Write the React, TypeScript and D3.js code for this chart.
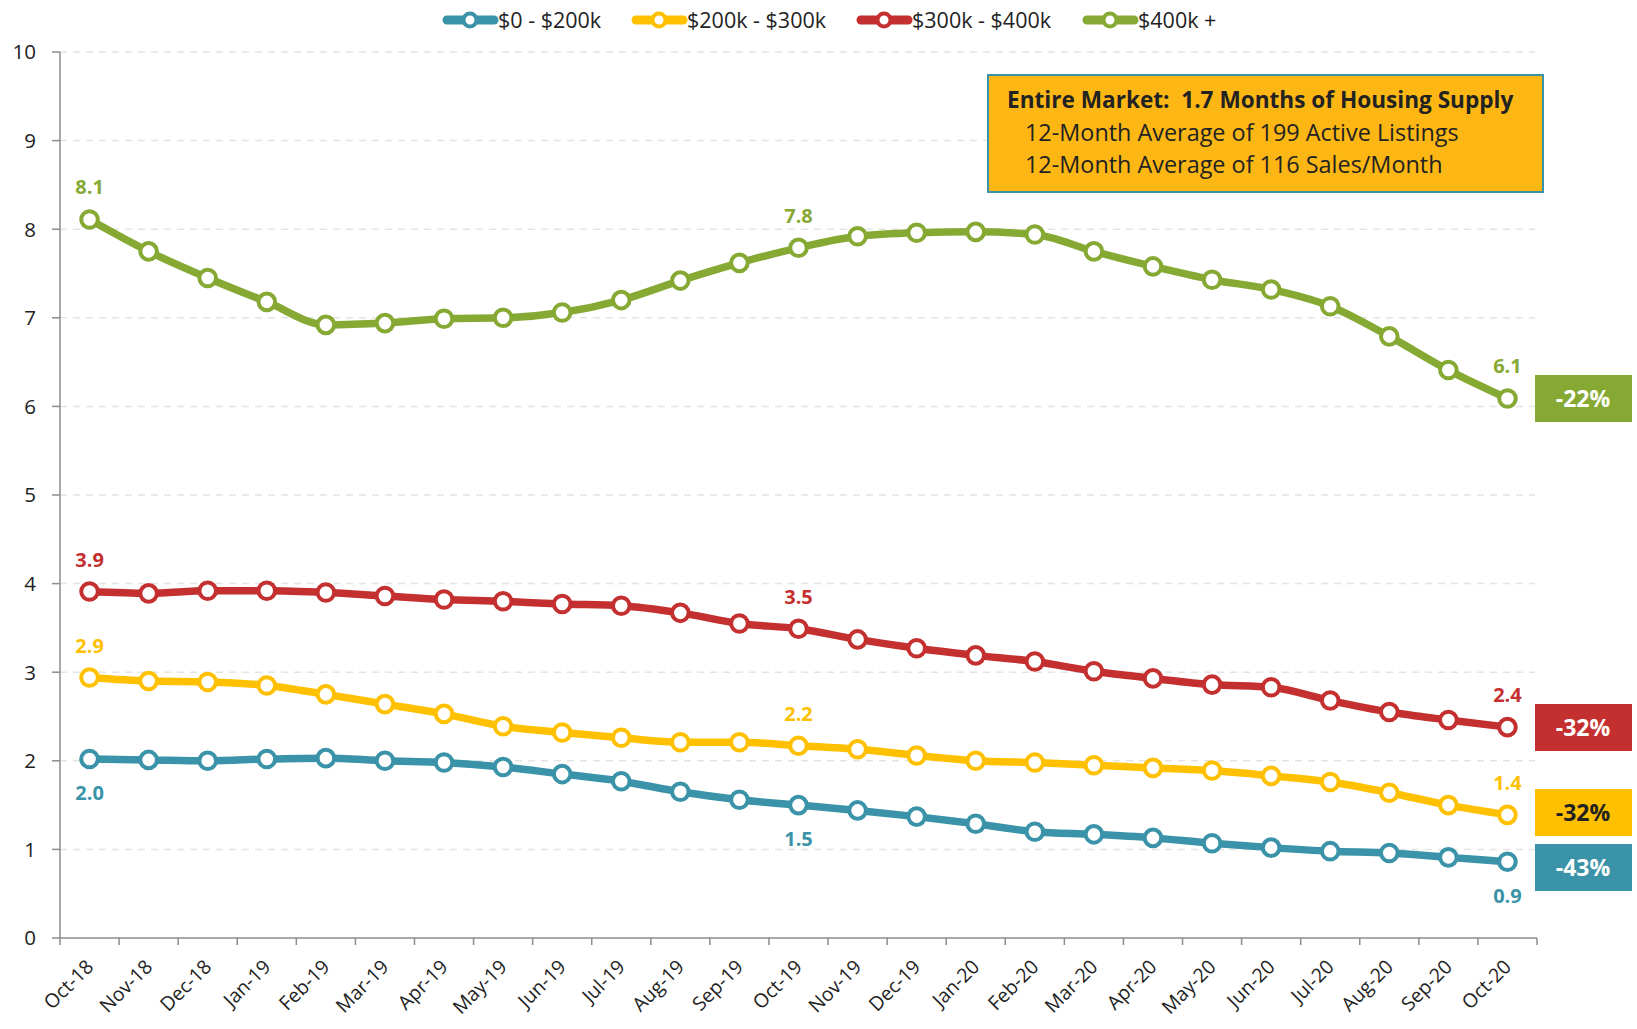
import React from "react";
import * as d3 from "d3";

const months = ["Oct-18","Nov-18","Dec-18","Jan-19","Feb-19","Mar-19","Apr-19","May-19","Jun-19","Jul-19","Aug-19","Sep-19","Oct-19","Nov-19","Dec-19","Jan-20","Feb-20","Mar-20","Apr-20","May-20","Jun-20","Jul-20","Aug-20","Sep-20","Oct-20"];
const seriesNames = ["$0 - $200k", "$200k - $300k", "$300k - $400k", "$400k +"];
const s0to200 = [2.02,2.01,2.00,2.02,2.03,2.00,1.98,1.93,1.85,1.77,1.65,1.56,1.50,1.44,1.37,1.29,1.20,1.17,1.13,1.07,1.02,0.98,0.96,0.91,0.86];
const s200to300 = [2.94,2.90,2.89,2.85,2.75,2.64,2.53,2.39,2.32,2.26,2.21,2.21,2.17,2.13,2.06,2.00,1.98,1.95,1.92,1.89,1.83,1.76,1.64,1.50,1.39];
const s300to400 = [3.91,3.89,3.92,3.92,3.90,3.86,3.82,3.80,3.77,3.75,3.67,3.55,3.49,3.37,3.27,3.19,3.12,3.01,2.93,2.86,2.83,2.68,2.55,2.46,2.38];
const s400plus = [8.11,7.75,7.45,7.18,6.92,6.94,6.99,7.00,7.06,7.20,7.42,7.62,7.79,7.92,7.96,7.97,7.94,7.75,7.58,7.43,7.32,7.13,6.79,6.41,6.09];
const changes = ["-43%", "-32%", "-32%", "-22%"];
const yTicks = [0,1,2,3,4,5,6,7,8,9,10];
const labelIdx = [0, 12, 24];
const boxLines = ["Entire Market:  1.7 Months of Housing Supply", "12-Month Average of 199 Active Listings", "12-Month Average of 116 Sales/Month"];

const colors = ["#3A93A8", "#FFC000", "#C42F2F", "#86A934"];
const allSeries = [s0to200, s200to300, s300to400, s400plus];
const FONT = "'Open Sans', 'Noto Sans', sans-serif";

export default function App() {
  const W = 1637, H = 1029;
  const left = 60, right = 1537, top = 52, bottom = 938;
  const x = d3.scaleBand<string>().domain(months).range([left, right]);
  const y = d3.scaleLinear().domain([0, 10]).range([bottom, top]);
  const cx = (i: number) => (x(months[i]) as number) + x.bandwidth() / 2;
  const line = d3.line<number>().x((_, i) => cx(i)).y(d => y(d)).curve(d3.curveMonotoneX);

  const legendX = [443, 632, 857, 1083];
  const labelBelow = [true, false, false, false];
  const boxY = [844, 789, 704, 375];
  const boxTextColor = ["#fff", "#222", "#fff", "#fff"];

  return (
    <svg width={W} height={H} style={{ position: "absolute", left: 0, top: 0, background: "#fff" }} fontFamily={FONT}>
      {/* grid */}
      {yTicks.filter(t => t > 0).map(t => (
        <line key={t} x1={left} x2={right - 2} y1={y(t)} y2={y(t)} stroke="#E4E4E4" strokeWidth={1.5} strokeDasharray="7,6" />
      ))}
      {/* axes */}
      <line x1={left} x2={left} y1={top} y2={bottom} stroke="#8C8C8C" strokeWidth={1.5} />
      <line x1={left} x2={right} y1={bottom} y2={bottom} stroke="#8C8C8C" strokeWidth={1.5} />
      {yTicks.map(t => (
        <g key={t}>
          <line x1={left - 8} x2={left} y1={y(t)} y2={y(t)} stroke="#8C8C8C" strokeWidth={1.5} />
          <text x={36} y={y(t)} dy="0.36em" textAnchor="end" fontSize={20.5} fill="#222">{t}</text>
        </g>
      ))}
      {months.map((m) => (
        <line key={m} x1={x(m) as number} x2={x(m) as number} y1={bottom} y2={bottom + 7} stroke="#8C8C8C" strokeWidth={1.5} />
      ))}
      <line x1={right} x2={right} y1={bottom} y2={bottom + 7} stroke="#8C8C8C" strokeWidth={1.5} />
      {months.map((m, i) => (
        <text key={m} transform={`translate(${cx(i) + 5},${bottom + 30}) rotate(-45)`} textAnchor="end" fontSize={19.5} fill="#222">{m}</text>
      ))}
      {/* series */}
      {allSeries.map((s, k) => (
        <g key={k}>
          <path d={line(s) as string} fill="none" stroke={colors[k]} strokeWidth={7.5} strokeLinejoin="round" />
          {s.map((v, i) => (
            <circle key={i} cx={cx(i)} cy={y(v)} r={8.3} fill="#fff" stroke={colors[k]} strokeWidth={4} />
          ))}
          {labelIdx.map(i => (
            <text key={i} x={cx(i)} y={labelBelow[k] ? y(s[i]) + 41 : y(s[i]) - 25} textAnchor="middle" fontSize={20} fontWeight="bold" fill={colors[k]}>
              {s[i].toFixed(1)}
            </text>
          ))}
          <rect x={1535} y={boxY[k]} width={97} height={47} fill={colors[k]} />
          <text x={1583} y={boxY[k] + 23.5} dy="0.36em" textAnchor="middle" fontSize={23} fontWeight="bold" fill={boxTextColor[k]}>{changes[k]}</text>
        </g>
      ))}
      {/* legend */}
      {seriesNames.map((n, k) => (
        <g key={n}>
          <line x1={legendX[k] + 4} x2={legendX[k] + 51} y1={20} y2={20} stroke={colors[k]} strokeWidth={9} strokeLinecap="round" />
          <circle cx={legendX[k] + 27} cy={20} r={6.5} fill="#fff" stroke={colors[k]} strokeWidth={4} />
          <text x={legendX[k] + 55} y={20} dy="0.36em" fontSize={21.5} fill="#222">{n}</text>
        </g>
      ))}
      {/* info box */}
      <rect x={988} y={75} width={555} height={117} fill="#FDB714" stroke="#3A93A8" strokeWidth={2} />
      <text x={1007} y={108} fontSize={22.6} fontWeight="bold" fill="#222" style={{ whiteSpace: "pre" }}>{boxLines[0]}</text>
      <text x={1025} y={141} fontSize={23.4} fill="#222">{boxLines[1]}</text>
      <text x={1025} y={173} fontSize={23.4} fill="#222">{boxLines[2]}</text>
    </svg>
  );
}
